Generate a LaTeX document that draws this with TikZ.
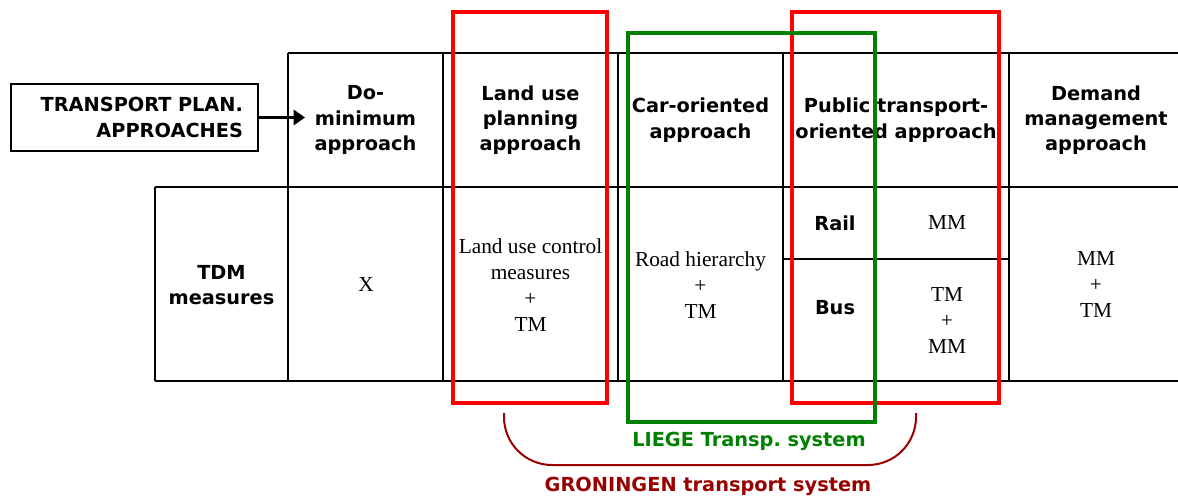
\documentclass[tikz,border=0pt]{standalone}
\usepackage{fontspec}
\setmainfont{Liberation Serif}
\setsansfont{DejaVu Sans}
\usepackage{tikz}
\usetikzlibrary{positioning,arrows.meta}
\definecolor{liegegreen}{RGB}{0,128,0}
\definecolor{groningred}{RGB}{153,0,0}

\begin{document}
\begin{tikzpicture}[
			x=0.75pt, y=-0.75pt
			,hd/.style={align=center, font=\sffamily\bfseries\fontsize{14.5}{19}\selectfont}
			,txt/.style={align=center, font=\fontsize{16}{19.5}\selectfont}
			,grid/.style={line width=1.5pt}
			,r/.style={draw=red, line width=2.4pt}
			,g/.style={draw=liegegreen, line width=2.3pt}
			,brc/.style={draw=groningred, line width=1.5pt, rounded corners=36pt}
		]
			\useasboundingbox (0,0) rectangle (1178,496);
			\draw[grid] (288,53) -- (1185,53);
			\draw[grid] (155,187) -- (1185,187);
			\draw[grid] (155,381) -- (1185,381);
			\draw[grid] (155,187) -- (155,381);
			\foreach \x in {288,443,618,783,1009}
				\draw[grid] (\x,53) -- (\x,381);
			\draw[grid] (783,259) -- (1009,259);

			\node [hd, draw, line width=1pt, text width=162.75pt, inner xsep=11.25pt
				, minimum height=50.25pt, align=right] (plan) at (134.5,117.5) {TRANSPORT PLAN.\\APPROACHES};
			\coordinate (tip) at (305,117.5);
			\draw [line width=1.6pt, -{Triangle[length=8.5pt, width=11.5pt]}] (plan.east) -- (tip);

			\node [hd] (domin) at (365.5,120) {Do-\\minimum\\approach};
			\node [hd] (landuse) at (530.5,120) {Land use\\planning\\approach};
			\node [hd] (car) at (700.5,120) {Car-oriented\\approach};
			\node [hd] (public) at (896,120) {Public transport-\\oriented approach};
			\node [hd] (demand) at (1096,120) {Demand\\management\\approach};

			\node [hd] (tdm) at (221.5,285) {TDM\\measures};
			\node [txt] (x) at (366,285) {X};
			\node [txt] (luc) at (530.5,285) {Land use control\\measures\\+\\TM};
			\node [txt] (road) at (700.5,285) {Road hierarchy\\+\\TM};
			\node [hd] (rail) at (835,223) {Rail};
			\node [txt] (railmm) at (947,223) {MM};
			\node [hd] (bus) at (835,308) {Bus};
			\node [txt] (bustm) at (947,321) {TM\\+\\MM};
			\node [txt] (dm) at (1096,285) {MM\\+\\TM};

			\draw [r] (453,12) rectangle (607,403);
			\draw [r] (792,12) rectangle (999,403);
			\draw [g] (628,33) rectangle (875,422);
			\draw [brc] (504,413) -- (504,465) -- (916,465) -- (916,413);

			\node [hd, text=liegegreen] (liege) at (749,441) {LIEGE Transp.\ system};
			\node [hd, text=groningred] (groning) at (708,486) {GRONINGEN transport system};
		\end{tikzpicture}
\end{document}
